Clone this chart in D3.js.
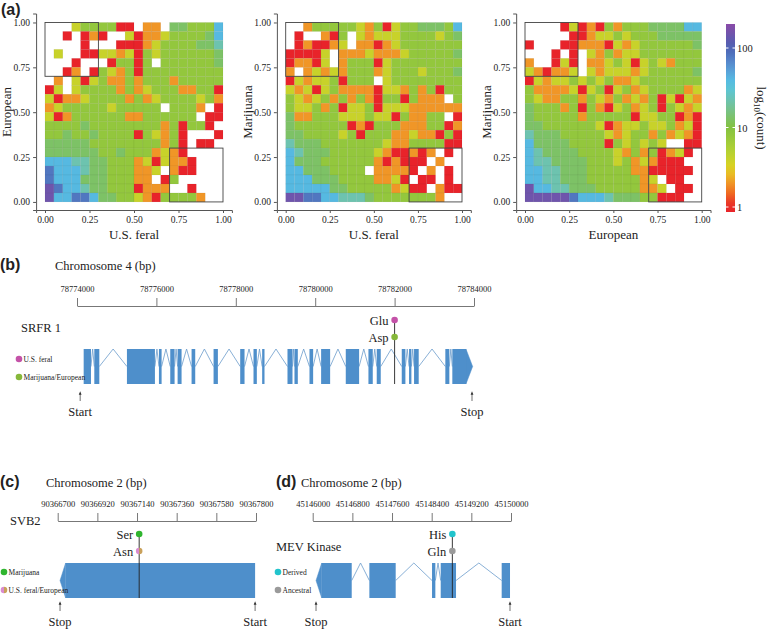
<!DOCTYPE html>
<html>
<head>
<meta charset="utf-8">
<script src="https://cdn.jsdelivr.net/npm/d3@7"></script>
<style>
  body { margin: 0; background: #fff; }
  text { font-family: "Liberation Serif", "Times New Roman", serif; fill: #222; }
  .letter { font-family: "Liberation Sans", Arial, sans-serif; font-weight: bold; font-size: 16px; }
</style>
</head>
<body>
<svg id="fig" width="779" height="629"></svg>
<script>
// heatmap grids, top row (y = 0.95-1.00) first, 20 columns from x = 0 to 1
// codes: . empty, r ~1, o ~2, y ~4, g ~8, m ~14, t ~22, b ~40, v ~80, p ~150
const gridFeralEuropean = [
  '. . . y g g g g r r . o o . m m g g g b',
  '. . r . r o r . . y r o o y g g g g m b',
  '. . . . r . . . r r r o y g g g g m m t',
  '. y . . r r y y o y r g y g g g g g g m',
  '. . . r . . . r g g r g . g g g g g g m',
  '. . r o . r g y o g r g g g g g g g g g',
  '. o . y r y g o o g o g g g o g g g g g',
  'r y . y g g g g o g o y g g g o o g g r',
  'y r o o y g g g g o g o y g g g g y g o',
  'o y g g g g g y g g g g g . g g g o . r',
  'y r o g g g g g g o o g g g g g g . r r',
  'g g g g m g g g g g g g g o g r g g r .',
  'g g m g g m g g g g r g y o g r . . . r',
  'm m m m m g g g g g g g g o g r . r r .',
  'm m m m m m g g m g g g o y o r . . . .',
  'b b b t t m m g g g o y r y o o r . . .',
  'v b b b t m m g g g o o y . o r r . . .',
  'v b b b m m m g g g o o . r g . . . . .',
  'p v b b t m m g g g r o o o . . r . . .',
  'p b b v v b m m g g y o r g g g g o . .'
];
const gridFeralMarijuana = [
  '. . o g g g g g y o g r y g g m m m g b',
  '. r . . o r g . y o y y y g g g g y g m',
  '. r o r r o y . o o r o y g g g g g g g',
  'r r r r y . o o o y o o o y g g g g g m',
  'r o o r y . o g g g r y g g g g g g g g',
  'o . o y o y o g g g o y g g g y g g g m',
  'r y o y y g r g g g . y g g g g g g g g',
  'y o y r y g o o o o r y y o g o g r g g',
  'g y o y g o g o g o r g g r g o o o . g',
  'g y y g o g r y y g r y y y o o o o o o',
  'm o o g g g y y y g y y r g o o g g . r',
  'm g g g g g g r o r g g g o o o g g r o',
  'm m g g g g y g r g g g o o y o o r g r',
  't m m m g g g g g g g y o o g g g g r r',
  'b t m m m g g g g g y o r r o r o . r .',
  'b m m m g g g g g g o r o r r r . o . .',
  'b b m m m g g g g . o o o o r . o . r .',
  'b b b m m m g g g g o o y r . r r . r .',
  'b b b b b m m g g g g g o y r r . o r r',
  'p p v v b b t t t m g g g g g g g o . .'
];
const gridEuropeanMarijuana = [
  '. . . . r y r o r g o g g g m m m m b b',
  '. . . . . r r o y y g y g g g m m m m m',
  'r . . . r r o o o r y o y g g g g g g m',
  '. . . r . r . y o g o y y g g g g g g g',
  'o . . r y r . o o y g y r y g y o g g g',
  'y o r o o y . y o y y y o y g g g g g m',
  'r y o y y g y g y g o o y g g g g g g g',
  'g o o o o y r y g r y g o y g g g g o y',
  'g y o o g g o g y o g o y o g r y r y o',
  'm g g g o g r g o r y g o y g r g y o y',
  'm g g g g g o g g g g g r y y g g r o r',
  'm m g g g g g g y r o y y g y y g o y r',
  't m m m g g g g g y o y g g o g o y o r',
  'b m m m m g g g g r g y g y g y . . r r',
  'b t m m m m g g g g y o g o g r o y r .',
  'b t t m m m m g g g y g o y o r r r . .',
  'b b t t m m m g g g g g o o r r r r r .',
  'b b t t m m m g g g g g g o y . r r . .',
  'p b b t t m m m g g g g g o o y . r r .',
  'p p p p p v b b b t m m m g g r r r . .'
];
const codeCounts = { r: 1, o: 2, y: 4, g: 8, m: 13, t: 22, b: 40, v: 80, p: 150 };

const heatPanels = [
  { grid: gridFeralEuropean, xLabel: 'U.S. feral', yLabel: 'European', x0: 45, w: 178 },
  { grid: gridFeralMarijuana, xLabel: 'U.S. feral', yLabel: 'Marijuana', x0: 285.7, w: 176.3 },
  { grid: gridEuropeanMarijuana, xLabel: 'European', yLabel: 'Marijuana', x0: 525, w: 176.7 }
];
const unitTicks = [0, 0.25, 0.5, 0.75, 1];
const legendTicks = [1, 10, 100];

// gene panels
const srfrExons = [[78774168, 78774352], [78774436, 78774562], [78775258, 78775963], [78776064, 78776131],
  [78776349, 78776458], [78776534, 78776634], [78776886, 78776978], [78777440, 78777549], [78778111, 78778220],
  [78778446, 78778530], [78778664, 78778723], [78779302, 78779428], [78779478, 78779562], [78779856, 78779948],
  [78780149, 78780376], [78780770, 78781106], [78781341, 78781450], [78781550, 78781651], [78782180, 78782272],
  [78782364, 78782423], [78782490, 78782607], [78783278, 78783379], [78783454, 78783798]];
const srfrTicks = [78774000, 78776000, 78778000, 78780000, 78782000, 78784000];
const svbExons = [[90366744, 90367795]];
const svbTicks = [90366700, 90366920, 90367140, 90367360, 90367580, 90367800];
const mevExons = [[45146182, 45146787], [45147143, 45147674], [45148407, 45148474], [45148582, 45148891], [45149812, 45149980]];
const mevTicks = [45146000, 45146800, 45147600, 45148400, 45149200, 45150000];

const genePanels = [
  { letter: '(b)', name: 'SRFR 1', chrom: 'Chromosome 4 (bp)', nameX: 21, nameY: 332, chromX: 55, chromY: 270, letterX: 0,
    domain: [78774000, 78784000], range: [77, 474], ticks: srfrTicks, axisY: 306, top: 349, bottom: 384,
    exons: srfrExons, tip: { side: 'right', bp: 78783966 },
    snp: 78782000, alleles: [{ aa: 'Glu', col: ['#c452a8'] }, { aa: 'Asp', col: ['#86b83a'] }], snpY: [320, 337],
    legend: [{ t: 'U.S. feral', col: ['#c452a8'] }, { t: 'Marijuana/European', col: ['#86b83a'] }], legendX: 19, legendY: [359, 377],
    arrows: [{ t: 'Start', bp: 78774080 }, { t: 'Stop', bp: 78783950 }], arrowY: 392 },
  { letter: '(c)', name: 'SVB2', chrom: 'Chromosome 2 (bp)', nameX: 10, nameY: 525, chromX: 46, chromY: 487, letterX: 0,
    domain: [90366700, 90367800], range: [57.7, 256], ticks: svbTicks, axisY: 521, top: 563, bottom: 598,
    exons: svbExons, tip: { side: 'left', bp: 90366713 },
    snp: 90367152, alleles: [{ aa: 'Ser', col: ['#2fb52f'] }, { aa: 'Asn', col: ['#d98bd0', '#c9a15a'] }], snpY: [534, 551],
    legend: [{ t: 'Marijuana', col: ['#2fb52f'] }, { t: 'U.S. feral/European', col: ['#d98bd0', '#c9a15a'] }], legendX: 4, legendY: [572, 590],
    arrows: [{ t: 'Stop', bp: 90366713 }, { t: 'Start', bp: 90367795 }], arrowY: 602 },
  { letter: '(d)', name: 'MEV Kinase', chrom: 'Chromosome 2 (bp)', nameX: 276, nameY: 551, chromX: 301, chromY: 487, letterX: 276,
    domain: [45146000, 45150000], range: [312.7, 511], ticks: mevTicks, axisY: 521, top: 563, bottom: 598,
    exons: mevExons, tip: { side: 'left', bp: 45146067 },
    snp: 45148817, alleles: [{ aa: 'His', col: ['#22c4cc'] }, { aa: 'Gln', col: ['#9a9a9a'] }], snpY: [534, 551],
    legend: [{ t: 'Derived', col: ['#22c4cc'] }, { t: 'Ancestral', col: ['#9a9a9a'] }], legendX: 278, legendY: [572, 590],
    arrows: [{ t: 'Stop', bp: 45146067 }, { t: 'Start', bp: 45149980 }], arrowY: 602 }
];

const svg = d3.select('#fig');

svg.append('defs').append('marker')
  .attr('id', 'arr').attr('viewBox', '0 0 10 10').attr('refX', 5).attr('refY', 5)
  .attr('markerWidth', 5).attr('markerHeight', 5).attr('orient', 'auto')
  .append('path').attr('d', 'M0,1 L10,5 L0,9 z').attr('fill', '#333');

// colour scale (log)
const color = d3.scaleLog()
  .domain([1, 1.6, 2.2, 3, 5, 10, 20, 35, 60, 100, 200])
  .range(['#e8232a', '#f0761f', '#f0a42a', '#e2d21e', '#b3d234', '#84c241', '#72c2a4', '#55c6e6', '#5a92d2', '#4a62b2', '#8a4ba8'])
  .clamp(true);

svg.append('text').attr('class', 'letter').attr('x', 1).attr('y', 15).text('(a)');

const yScale = d3.scaleLinear().domain([-0.045, 1.05]).range([210, 13.5]);

heatPanels.forEach(p => {
  const x = d3.scaleLinear().domain([-0.05, 1.05]).range([p.x0 - 0.05 * p.w, p.x0 + 1.05 * p.w]);
  const g = svg.append('g');
  const cells = [];
  p.grid.forEach((row, r) => {
    row.replace(/ /g, '').split('').forEach((c, i) => {
      if (c !== '.') cells.push({ i, j: 19 - r, n: codeCounts[c] });
    });
  });
  g.selectAll('rect.cell').data(cells).enter().append('rect')
    .attr('x', d => x(d.i * 0.05))
    .attr('y', d => yScale((d.j + 1) * 0.05))
    .attr('width', x(0.05) - x(0))
    .attr('height', yScale(0) - yScale(0.05))
    .attr('fill', d => color(d.n))
    .attr('stroke', 'rgba(0,0,0,0.08)').attr('stroke-width', 0.5);
  [[0, 0.3, 0.7, 1], [0.7, 1, 0, 0.3]].forEach(b => {
    g.append('rect').attr('x', x(b[0])).attr('y', yScale(b[3]))
      .attr('width', x(b[1]) - x(b[0])).attr('height', yScale(b[2]) - yScale(b[3]))
      .attr('fill', 'none').attr('stroke', '#444').attr('stroke-width', 0.9);
  });
  const xa = g.append('g').attr('transform', 'translate(0,210)')
    .call(d3.axisBottom(x).tickValues(unitTicks).tickFormat(d3.format('.2f')).tickSize(3));
  const ya = g.append('g').attr('transform', `translate(${x(-0.05)},0)`)
    .call(d3.axisLeft(yScale).tickValues(unitTicks).tickFormat(d3.format('.2f')).tickSize(3));
  [xa, ya].forEach(a => {
    a.select('.domain').attr('stroke', '#555');
    a.selectAll('line').attr('stroke', '#555');
    a.selectAll('text').style('font-family', '"Liberation Serif", serif').style('font-size', '9.5px').attr('fill', '#333');
  });
  g.append('text').attr('x', p.x0 + p.w / 2).attr('y', 239).attr('text-anchor', 'middle')
    .style('font-size', '13px').text(p.xLabel);
  g.append('text').attr('transform', `translate(${x(-0.05) - 25},112) rotate(-90)`)
    .attr('text-anchor', 'middle').style('font-size', '13px').text(p.yLabel);
});

// colour bar
const lg = d3.scaleLog().domain([1, 100]).range([207, 48]);
const grad = svg.select('defs').append('linearGradient').attr('id', 'cbar')
  .attr('x1', 0).attr('y1', 1).attr('x2', 0).attr('y2', 0);
d3.range(0, 1.001, 0.05).forEach(t => {
  const v = lg.invert(212 - t * (212 - 24));
  grad.append('stop').attr('offset', t).attr('stop-color', color(v));
});
svg.append('rect').attr('x', 726).attr('y', 24).attr('width', 9).attr('height', 188).attr('fill', 'url(#cbar)');
legendTicks.forEach(v => {
  svg.append('line').attr('x1', 726).attr('x2', 728.5).attr('y1', lg(v)).attr('y2', lg(v)).attr('stroke', '#fff');
  svg.append('line').attr('x1', 732.5).attr('x2', 735).attr('y1', lg(v)).attr('y2', lg(v)).attr('stroke', '#fff');
  svg.append('text').attr('x', 737).attr('y', lg(v) + 4).style('font-size', '10.5px').text(v);
});
const lt = svg.append('text').attr('transform', 'translate(757,118) rotate(90)').attr('text-anchor', 'middle')
  .style('font-size', '13px');
lt.append('tspan').text('log');
lt.append('tspan').attr('dy', 3).style('font-size', '9px').text('10');
lt.append('tspan').attr('dy', -3).text('(count)');

// gene panels
genePanels.forEach(p => {
  const x = d3.scaleLinear().domain(p.domain).range(p.range);
  const g = svg.append('g');
  const mid = (p.top + p.bottom) / 2;
  g.append('text').attr('class', 'letter').attr('x', p.letterX).attr('y', p.chromY).text(p.letter);
  g.append('text').attr('x', p.chromX).attr('y', p.chromY).style('font-size', '12.5px').text(p.chrom);
  const ax = g.append('g').attr('transform', `translate(0,${p.axisY})`)
    .call(d3.axisTop(x).tickValues(p.ticks).tickFormat(d3.format('d')).tickSize(8).tickSizeOuter(0).tickPadding(6));
  ax.select('.domain').attr('stroke', '#777');
  ax.selectAll('line').attr('stroke', '#777');
  ax.selectAll('text').style('font-family', '"Liberation Serif", serif').style('font-size', '8.5px').attr('fill', '#333');
  g.append('text').attr('x', p.nameX).attr('y', p.nameY).style('font-size', '12.5px').text(p.name);

  // introns
  for (let k = 0; k < p.exons.length - 1; k++) {
    const a = p.exons[k][1], b = p.exons[k + 1][0];
    g.append('polyline')
      .attr('points', `${x(a)},${mid} ${x((a + b) / 2)},${p.top} ${x(b)},${mid}`)
      .attr('fill', 'none').attr('stroke', '#6b9ccc').attr('stroke-width', 0.8);
  }
  // exons
  g.selectAll('rect.exon').data(p.exons).enter().append('rect')
    .attr('x', d => x(d[0])).attr('y', p.top)
    .attr('width', d => x(d[1]) - x(d[0])).attr('height', p.bottom - p.top)
    .attr('fill', '#4e8fcb');
  const tipE = p.tip.side === 'right' ? p.exons[p.exons.length - 1][1] : p.exons[0][0];
  g.append('path')
    .attr('d', `M${x(tipE)},${p.top} L${x(p.tip.bp)},${mid} L${x(tipE)},${p.bottom} Z`)
    .attr('fill', '#4e8fcb').attr('stroke', '#4e8fcb').attr('stroke-width', 0.5);

  // SNP
  g.append('line').attr('x1', x(p.snp)).attr('x2', x(p.snp)).attr('y1', p.snpY[0]).attr('y2', p.bottom)
    .attr('stroke', '#222').attr('stroke-width', 0.9);
  const dot = (cx, cy, cols) => {
    if (cols.length === 1) {
      g.append('circle').attr('cx', cx).attr('cy', cy).attr('r', 3.3).attr('fill', cols[0]);
    } else {
      g.append('path').attr('d', `M${cx},${cy - 3.3} A3.3,3.3 0 0 0 ${cx},${cy + 3.3} Z`).attr('fill', cols[0]);
      g.append('path').attr('d', `M${cx},${cy - 3.3} A3.3,3.3 0 0 1 ${cx},${cy + 3.3} Z`).attr('fill', cols[1]);
    }
  };
  p.alleles.forEach((al, k) => {
    dot(x(p.snp), p.snpY[k], al.col);
    g.append('text').attr('x', x(p.snp) - 6).attr('y', p.snpY[k] + 4.5).attr('text-anchor', 'end')
      .style('font-size', '12.5px').text(al.aa);
  });
  p.legend.forEach((l, k) => {
    dot(p.legendX, p.legendY[k], l.col);
    g.append('text').attr('x', p.legendX + 4.5).attr('y', p.legendY[k] + 3).style('font-size', '7.5px').text(l.t);
  });
  p.arrows.forEach(a => {
    g.append('line').attr('x1', x(a.bp)).attr('x2', x(a.bp)).attr('y1', p.arrowY + 9).attr('y2', p.arrowY + 1)
      .attr('stroke', '#333').attr('stroke-width', 0.7).attr('marker-end', 'url(#arr)');
    g.append('text').attr('x', x(a.bp)).attr('y', p.arrowY + 24).attr('text-anchor', 'middle')
      .style('font-size', '12.5px').text(a.t);
  });
});
</script>
</body>
</html>
